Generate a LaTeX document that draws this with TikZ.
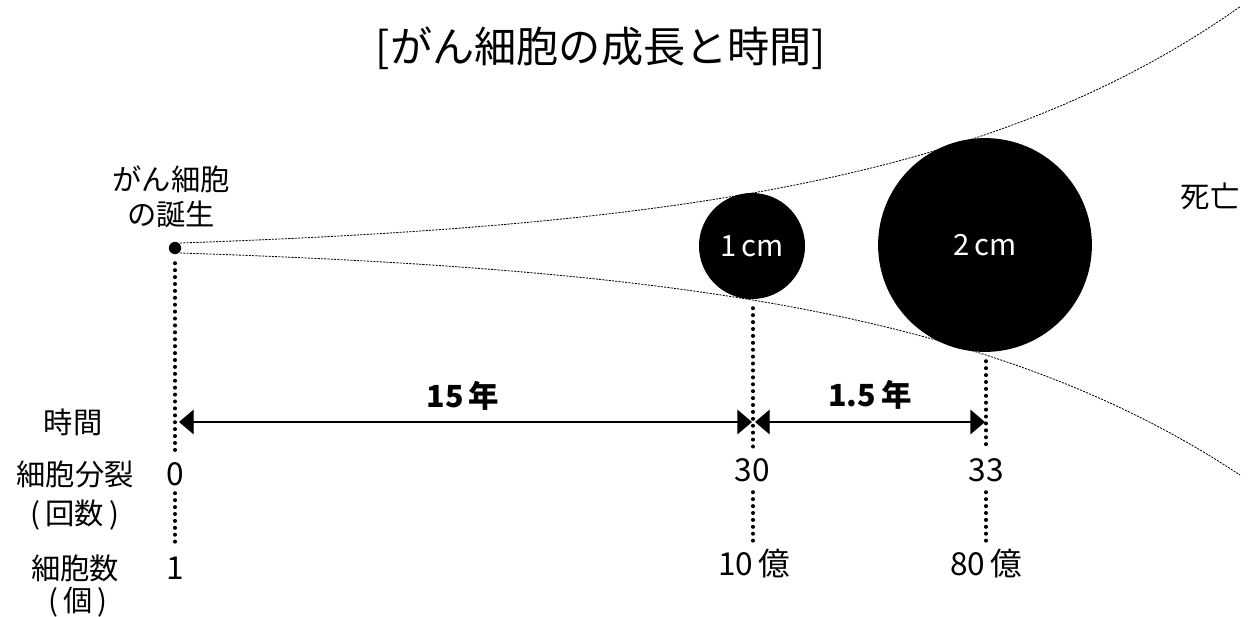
\documentclass[tikz,border=0pt]{standalone}
\usepackage{fontspec}
\setmainfont{Noto Sans CJK JP}
\usetikzlibrary{arrows.meta}
\begin{document}
\begin{tikzpicture}[x=0.03cm,y=-0.03cm,
  lbl/.style={font=\fontsize{25}{30}\selectfont, inner sep=0pt, align=center},
  num/.style={font=\fontsize{27}{30}\selectfont, inner sep=0pt},
  ttl/.style={font=\fontsize{36}{40}\selectfont, inner sep=0pt},
  yrs/.style={font=\fontsize{26}{30}\selectfont\bfseries, inner sep=0pt},
  vdot/.style={line width=3pt, line cap=round, dash pattern=on 0.4pt off 5.5pt},
  curve/.style={line width=0.7pt, dash pattern=on 1.8pt off 1.0pt},
  dim/.style={line width=1.1pt, {Triangle[length=12.5pt,width=21pt]}-{Triangle[length=12.5pt,width=21pt]}},
  ball/.style={circle, fill=black, inner sep=0pt, text=white, font=\fontsize{25}{30}\selectfont}
]
\useasboundingbox (0,0) rectangle (1259,617);

% growth curves
\draw[curve] plot[domain=180:1240, samples=90] (\x, {243-12.27*(exp(0.00284*(\x-180))-1)});
\draw[curve] plot[domain=180:1240, samples=90] (\x, {253+11.53*(exp(0.00284*(\x-180))-1)});

% birth dot and tumours
\node[circle, fill=black, inner sep=0pt, minimum size=10.5pt] (dot) at (175,248) {};
\node[ball, minimum size=90.5pt] (c1) at (752,246) {1\,cm};
\node[ball, minimum size=182.5pt] (c2) at (985,245) {2\,cm};

% title and labels
\node[ttl] (title) at (601,48) {[がん細胞の成長と時間]};
\node[lbl] (birth) at (171,197) {がん細胞\\の誕生};
\node[lbl] (death) at (1210,196) {死亡};

\node[lbl] (time) at (73,422) {時間};
\node[lbl] (div) at (75,474) {細胞分裂};
\node[lbl] (divu) at (75,515) {(\,回数\,)};
\node[lbl] (cnt) at (75,568) {細胞数};
\node[lbl] (cntu) at (78,602) {(\,個\,)};

\node[num] (n0) at (175,474) {0};
\node[num] (n30) at (752,470) {30};
\node[num] (n33) at (986,470) {33};
\node[num] (m1) at (175,568) {1};
\node[num, anchor=west] (m10) at (718,564) {10\,億};
\node[num, anchor=west] (m80) at (950,564) {80\,億};

\node[yrs] (y15) at (463,396) {15\,年};
\node[yrs] (y15b) at (870,395) {1.5\,年};

% vertical dotted lines
\coordinate (a0top) at (175,263);
\coordinate (a0bot) at (175,452);
\coordinate (b0top) at (175,493);
\coordinate (b0bot) at (175,547);
\draw[vdot] (a0top) -- (a0bot);
\draw[vdot] (b0top) -- (b0bot);

\coordinate (a1top) at (753,308);
\coordinate (a1bot) at (753,448);
\coordinate (b1top) at (753,492);
\coordinate (b1bot) at (753,543);
\draw[vdot] (a1top) -- (a1bot);
\draw[vdot] (b1top) -- (b1bot);

\coordinate (a2top) at (986,361);
\coordinate (a2bot) at (986,448);
\coordinate (b2top) at (986,492);
\coordinate (b2bot) at (986,543);
\draw[vdot] (a2top) -- (a2bot);
\draw[vdot] (b2top) -- (b2bot);

% time arrows
\coordinate (t0) at (179,422);
\coordinate (t1l) at (752,422);
\coordinate (t1r) at (755,422);
\coordinate (t2) at (985,422);
\draw[dim] (t0) -- (t1l);
\draw[dim] (t1r) -- (t2);
\end{tikzpicture}
\end{document}
